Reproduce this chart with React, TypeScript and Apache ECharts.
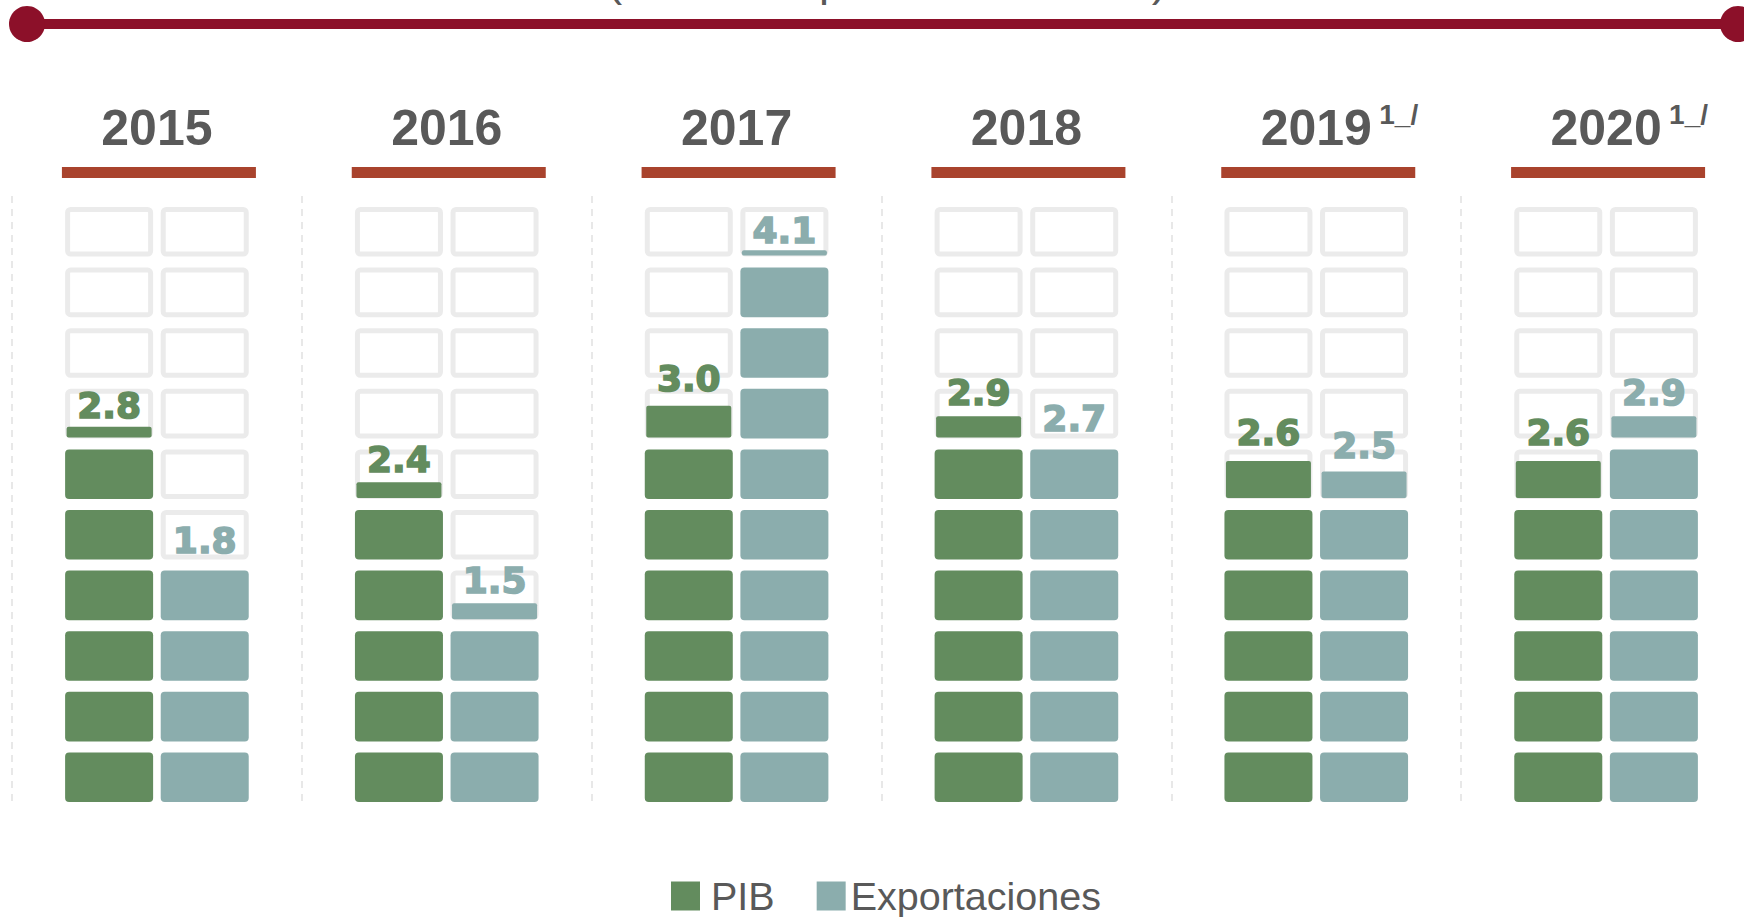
import React, { useEffect, useRef } from 'react';
import * as echarts from 'echarts';

// ---- data ----
const years = ['2015', '2016', '2017', '2018', '2019', '2020'];
const yearNotes = ['', '', '', '', '1_/', '1_/'];
const pib = [2.8, 2.4, 3.0, 2.9, 2.6, 2.6];
const exportaciones = [1.8, 1.5, 4.1, 2.7, 2.5, 2.9];
const seriesNames = ['PIB', 'Exportaciones'];
const subtitle = '(Variación porcentual anual)';

// ---- styling constants ----
const STEP = 0.45; // value represented by one block
const BLOCKS = 10;
const GAP = 11;
const GREEN = '#638c5e';
const TEAL = '#8badad';
const GRAY_TEXT = '#595959';
const OUTLINE = '#ebebeb';
const DARK_RED = '#8c1029';
const RUST = '#a9432d';
const WIDTH_FRAC = 88 / 289.8;
const OFFSET_FRAC = 47.8 / 289.8;

function blockRenderer(color: string, offsetSign: number) {
  return (params: any, api: any) => {
    const idx = api.value(0);
    const v = api.value(1);
    const band = api.size([1, 0])[0];
    const cx = api.coord([idx, 0])[0] + offsetSign * OFFSET_FRAC * band;
    const w = band * WIDTH_FRAC;
    const x = cx - w / 2;
    const n = Math.round((v / STEP) * 1000) / 1000;
    const full = Math.floor(n);
    const frac = n - full;
    const children: any[] = [];
    for (let i = 0; i < BLOCKS; i++) {
      const yb = api.coord([idx, i * STEP])[1];
      const yt = api.coord([idx, (i + 1) * STEP])[1];
      const h = yb - yt - GAP;
      const y = yb - h;
      if (i < full) {
        children.push({
          type: 'rect',
          shape: { x, y, width: w, height: h, r: 4 },
          style: { fill: color },
        });
      } else {
        children.push({
          type: 'rect',
          shape: { x: x + 2.5, y: y + 2.5, width: w - 5, height: h - 5, r: 3 },
          style: { fill: 'none', stroke: OUTLINE, lineWidth: 5 },
        });
        if (i === full && frac > 0.001) {
          const ph = frac * (h - 2);
          children.push({
            type: 'rect',
            shape: { x: x + 1.5, y: yb - 1 - ph, width: w - 3, height: ph, r: 2 },
            style: { fill: color },
          });
        }
      }
    }
    const ly = api.coord([idx, v])[1];
    children.push({
      type: 'text',
      x: cx,
      y: ly - 7 - 0.346 * 36,
      style: {
        text: v.toFixed(1),
        fill: color,
        stroke: color,
        lineWidth: 1.6,
        fontSize: 36,
        fontWeight: 'bold',
        fontFamily: 'DejaVu Sans',
        align: 'center',
        verticalAlign: 'middle',
      },
    });
    return { type: 'group', children };
  };
}

function headerRenderer(params: any, api: any) {
  const idx = api.value(0);
  const [cx, topY] = api.coord([idx, BLOCKS * STEP]);
  const children: any[] = [
    {
      type: 'text',
      x: cx,
      y: topY - 68.3,
      style: {
        text: years[idx],
        fill: GRAY_TEXT,
        fontSize: 50,
        fontWeight: 'bold',
        fontFamily: 'Liberation Sans',
        align: 'center',
        verticalAlign: 'middle',
      },
    },
    {
      type: 'rect',
      shape: { x: cx - 95, y: topY - 29, width: 194, height: 11 },
      style: { fill: RUST },
    },
  ];
  if (yearNotes[idx]) {
    children.push({
      type: 'text',
      x: cx + 63,
      y: topY - 82,
      style: {
        text: yearNotes[idx],
        fill: GRAY_TEXT,
        fontSize: 28,
        fontWeight: 'bold',
        fontFamily: 'Liberation Sans',
        align: 'left',
        verticalAlign: 'middle',
      },
    });
  }
  return { type: 'group', children };
}

export default function App() {
  const ref = useRef<HTMLDivElement>(null);
  useEffect(() => {
    if (!ref.current) return;
    const chart = echarts.init(ref.current, null, { renderer: 'svg' });
    chart.setOption({
      animation: false,
      backgroundColor: '#ffffff',
      grid: { left: 12, width: 1739, top: 196, bottom: 115 },
      xAxis: {
        type: 'category',
        data: years,
        position: 'top',
        axisLine: { show: false },
        axisTick: { show: false },
        axisLabel: { show: false },
        splitLine: {
          show: true,
          interval: 0,
          lineStyle: { type: [7, 6], color: '#e8e8e8', width: 2 },
        },
      },
      yAxis: { type: 'value', min: 0, max: BLOCKS * STEP, show: false, splitLine: { show: false } },
      legend: {
        data: [
          { name: seriesNames[0], itemStyle: { color: GREEN }, textStyle: { padding: [0, 0, 0, 6] } },
          { name: seriesNames[1], itemStyle: { color: TEAL } },
        ],
        left: 666,
        top: 871,
        icon: 'rect',
        itemWidth: 29,
        itemHeight: 29,
        itemGap: 42,
        selectedMode: false,
        textStyle: { fontSize: 39.5, color: GRAY_TEXT, fontFamily: 'Liberation Sans' },
      },
      graphic: [
        { type: 'line', shape: { x1: 27, y1: 24, x2: 1738, y2: 24 }, style: { stroke: DARK_RED, lineWidth: 10 } },
        { type: 'circle', shape: { cx: 27, cy: 24, r: 18 }, style: { fill: DARK_RED } },
        { type: 'circle', shape: { cx: 1738, cy: 24, r: 18 }, style: { fill: DARK_RED } },
        {
          type: 'text',
          x: 887,
          y: -20,
          style: {
            text: subtitle,
            fill: GRAY_TEXT,
            fontSize: 45,
            fontFamily: 'Liberation Sans',
            align: 'center',
            verticalAlign: 'middle',
          },
        },
      ],
      series: [
        {
          name: 'encabezados',
          type: 'custom',
          silent: true,
          data: years.map((_, i) => [i, BLOCKS * STEP]),
          encode: { x: 0, y: 1 },
          renderItem: headerRenderer,
        },
        {
          name: seriesNames[0],
          type: 'custom',
          itemStyle: { color: GREEN },
          data: pib.map((v, i) => [i, v]),
          encode: { x: 0, y: 1 },
          renderItem: blockRenderer(GREEN, -1),
        },
        {
          name: seriesNames[1],
          type: 'custom',
          itemStyle: { color: TEAL },
          data: exportaciones.map((v, i) => [i, v]),
          encode: { x: 0, y: 1 },
          renderItem: blockRenderer(TEAL, 1),
        },
      ],
    });
    return () => chart.dispose();
  }, []);
  return (
    <div
      style={{
        position: 'absolute',
        left: 0,
        top: 0,
        width: 1744,
        height: 917,
        overflow: 'hidden',
        background: '#ffffff',
      }}
    >
      <div ref={ref} style={{ width: 1760, height: 917 }} />
    </div>
  );
}
